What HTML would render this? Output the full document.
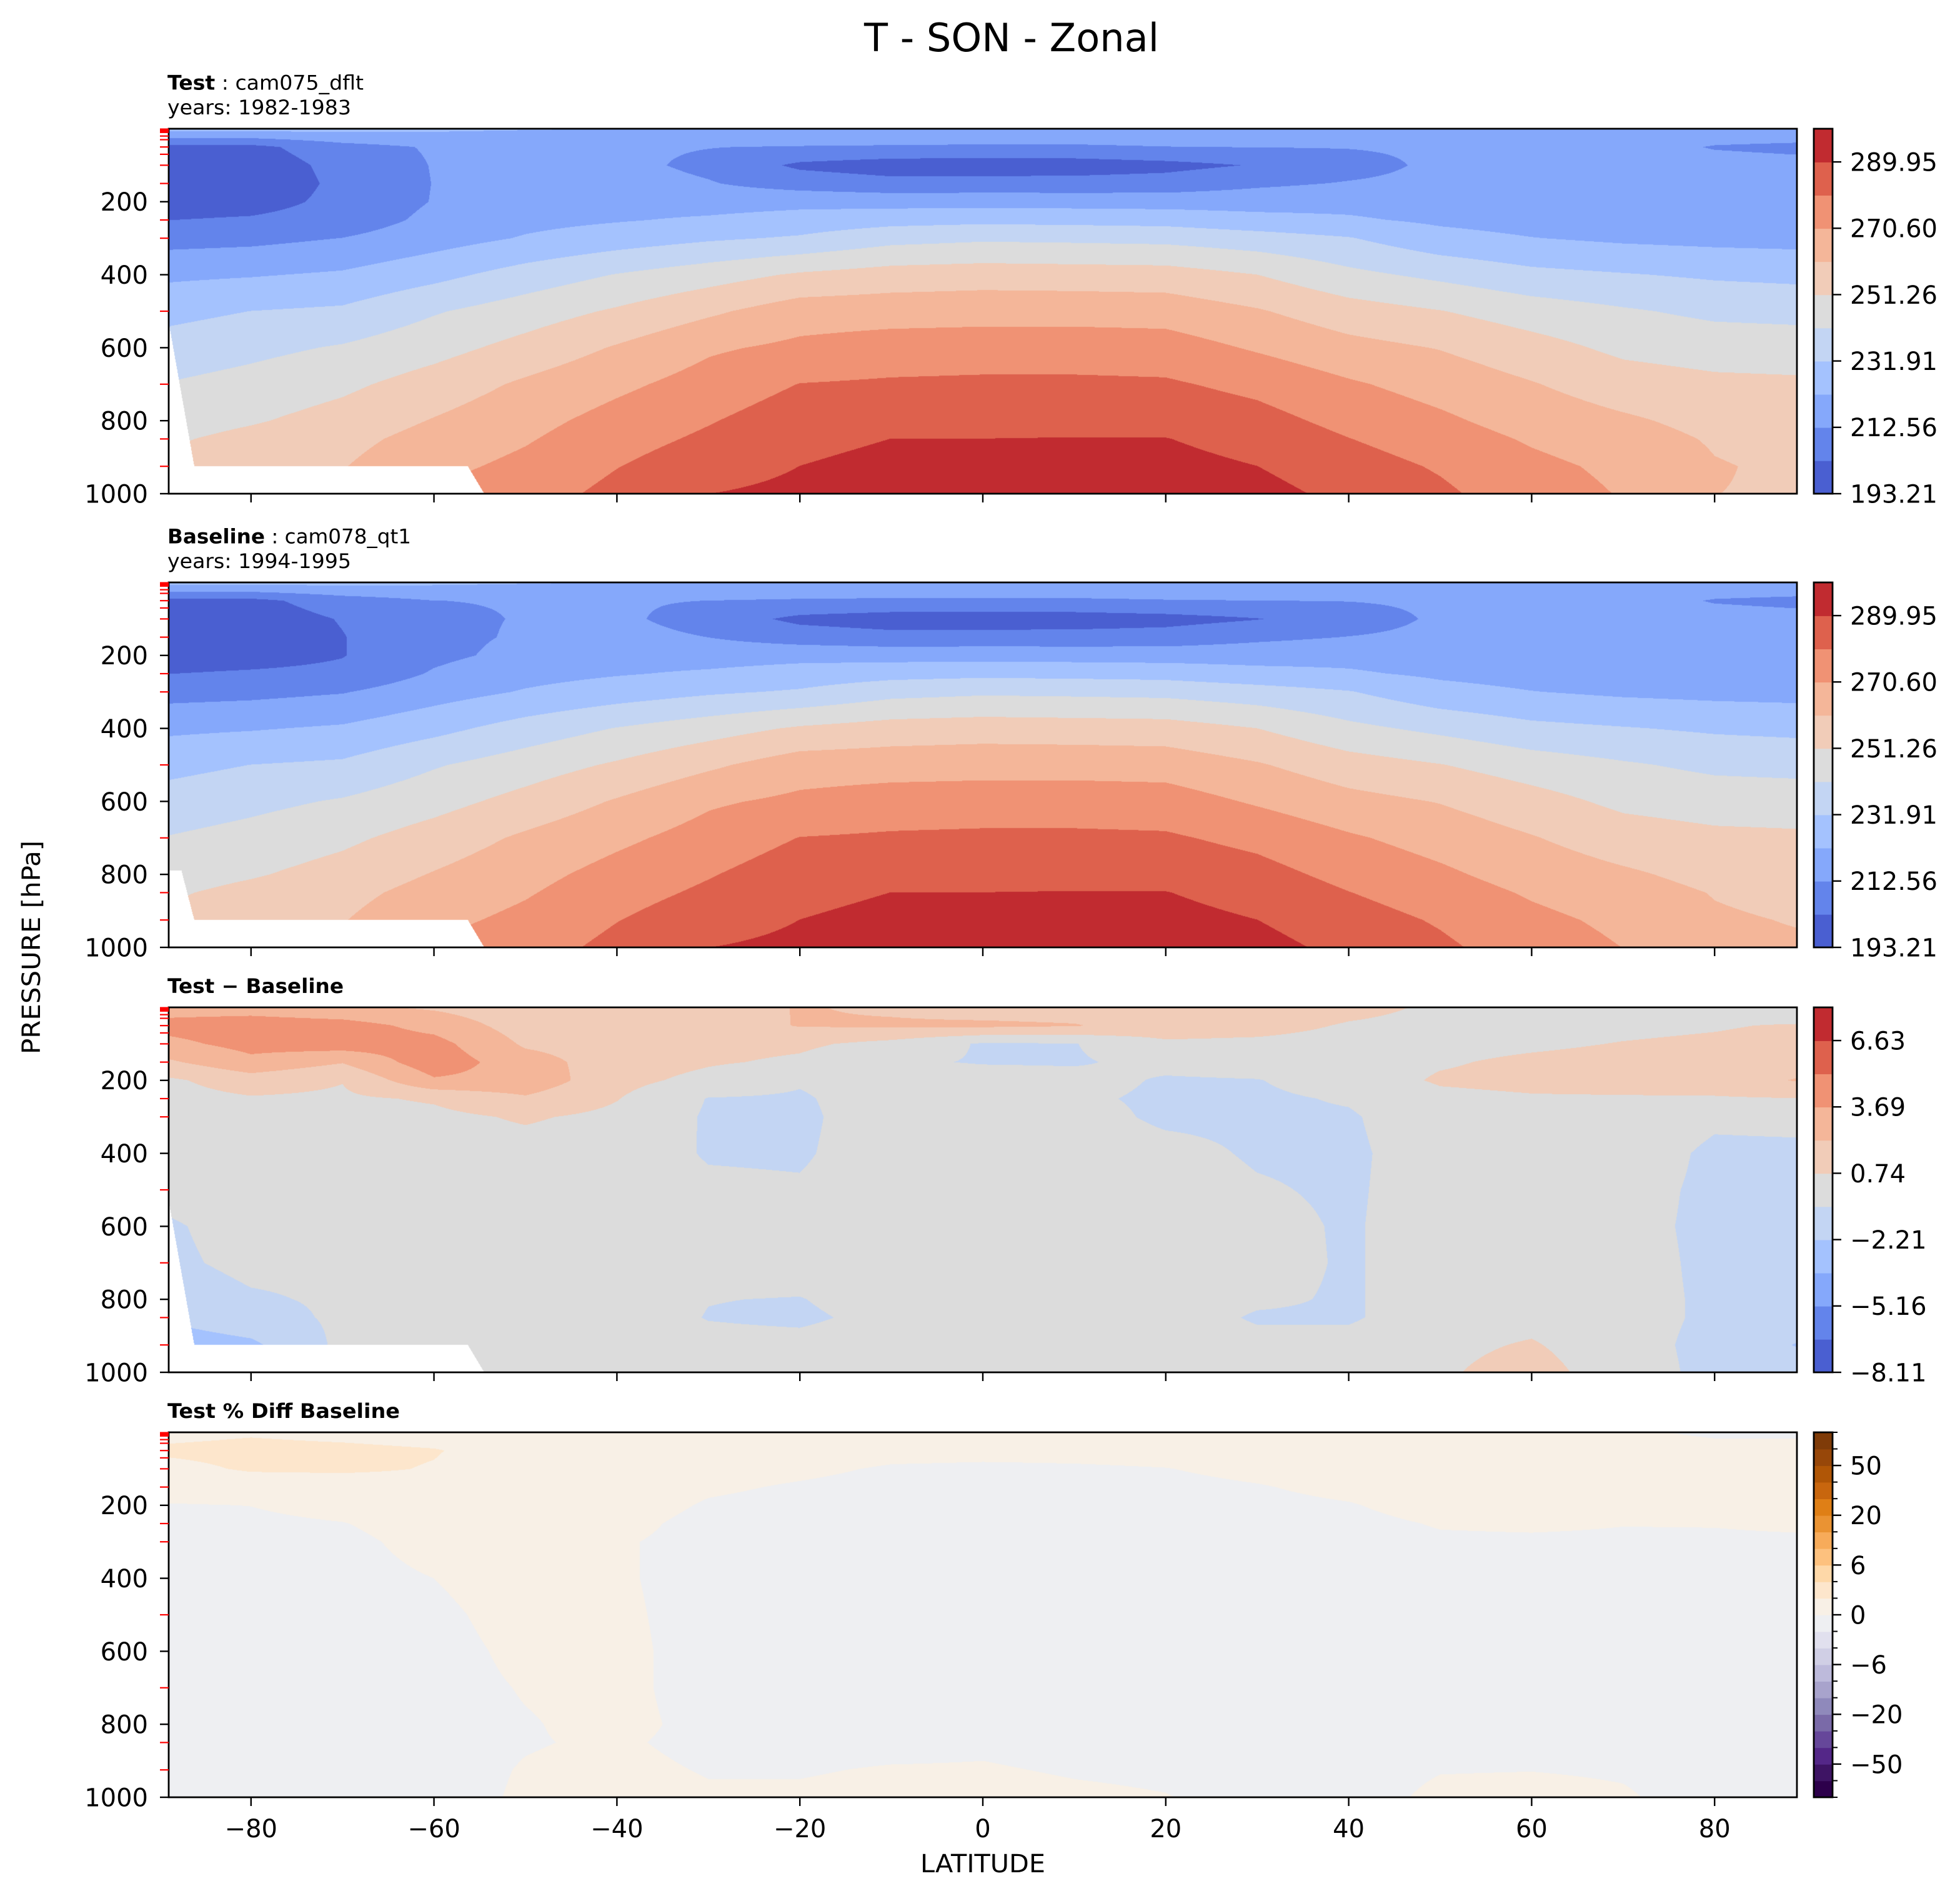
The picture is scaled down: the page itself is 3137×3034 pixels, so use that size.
<!DOCTYPE html>
<html><head><meta charset="utf-8"><title>T - SON - Zonal</title>
<style>
html,body{margin:0;padding:0;background:#fff;}
body{width:3137px;height:3034px;position:relative;overflow:hidden;}
canvas{position:absolute;display:block;}
svg{position:absolute;left:0;top:0;}
text{font-family:"DejaVu Sans","Liberation Sans",sans-serif;fill:#000;}
</style></head>
<body>
<canvas id="c0" width="2606" height="584" style="left:270px;top:206px"></canvas>
<canvas id="c1" width="2606" height="584" style="left:270px;top:932px"></canvas>
<canvas id="c2" width="2606" height="584" style="left:270px;top:1612px"></canvas>
<canvas id="c3" width="2606" height="584" style="left:270px;top:2292px"></canvas>
<svg id="ov" width="3137" height="3034" viewBox="0 0 1568.5 1517">
  <text x="809.5" y="41" font-size="31" text-anchor="middle" textLength="236" lengthAdjust="spacingAndGlyphs">T - SON - Zonal</text>
  <text x="134" y="71.7" font-size="16" textLength="157" lengthAdjust="spacingAndGlyphs"><tspan font-weight="bold">Test</tspan> : cam075_dflt</text>
  <text x="134" y="91.5" font-size="16" textLength="147" lengthAdjust="spacingAndGlyphs">years: 1982-1983</text>
  <text x="134" y="434.7" font-size="16" textLength="195" lengthAdjust="spacingAndGlyphs"><tspan font-weight="bold">Baseline</tspan> : cam078_qt1</text>
  <text x="134" y="454.5" font-size="16" textLength="147" lengthAdjust="spacingAndGlyphs">years: 1994-1995</text>
  <text x="134" y="794.5" font-size="16" font-weight="bold" textLength="141" lengthAdjust="spacingAndGlyphs">Test − Baseline</text>
  <text x="134" y="1134.5" font-size="16" font-weight="bold" textLength="186" lengthAdjust="spacingAndGlyphs">Test % Diff Baseline</text>
  <text x="786.5" y="1498" font-size="20" text-anchor="middle" textLength="100" lengthAdjust="spacingAndGlyphs">LATITUDE</text>
  <text x="0" y="0" font-size="20" text-anchor="middle" transform="translate(32,758) rotate(-90)" textLength="171" lengthAdjust="spacingAndGlyphs">PRESSURE [hPa]</text>
</svg>
<script>
// ---------- data ----------
const lats=[-89,-80,-70,-60,-50,-40,-30,-20,-10,0,10,20,30,40,50,60,70,80,89];
const pressures=[0,50,100,150,200,250,300,400,500,600,700,800,850,925,1000];
const testT=[
[226,200,197,196,198,202.8,208.9,220.4,229,236,242,247,250,253,256],
[226,200,197,196.5,199,204,209.9,221.5,232,239,244.9,250.3,254,258,262],
[225,209,206,205,205.5,207,212.7,223.5,233.5,242.5,249.2,255,258,260.5,264],
[224,213.5,213,212.8,213,215,218,229,240.7,247.8,255.5,261.5,264.5,268,272],
[223,213,213.5,214,216,219.5,223,236,246.5,254.5,262.5,267.5,269.7,273,276],
[222,214,215,216.5,218.5,221.5,227,242,252.5,261.8,268.5,274,276.5,280,283],
[222,212.8,210.5,213.2,218,223.6,230.5,247,259.2,269.2,274.5,279.6,282,286,289.9],
[222,212,201,208.5,219,226.5,233,252.5,266,272.7,280.5,285.5,287.5,290,292],
[222,211.5,198,206,218.5,228.5,238.3,255.5,266.5,275,281.5,287,290,292.5,295],
[222,211,197.5,206.5,218.5,229.5,240,256.5,267,275.5,282,287.5,290,293,295.5],
[222,211,198,206.5,218.3,229,239.5,256,267,275.5,282,287.5,290.2,293.5,296],
[222,212.3,200,207,218,228.3,238.8,255.5,266.5,275,281.5,287,290.2,293,295],
[222,212.8,203.5,210.8,218,225.5,236,251.3,261.8,269.5,277.7,283.6,286.5,290,293],
[222,213,209,213.2,219,223.5,232.5,244,255.5,264,271.8,277.5,280.5,284.5,287.5],
[222,214,214.5,215,217,220.5,225.5,239.3,251.6,260.5,266.8,272.4,275.3,279.3,282],
[222,215,215,215,216,218.5,222.5,234.5,246.5,255,261.5,266.5,269.5,273,275],
[220,215,215,215,215.5,217,220.5,232.5,242.7,249,256,262.4,265,268.5,270],
[216,212.2,214.5,214.5,214.5,215.5,219.5,230.5,239.5,246.8,253.5,258,260,261.5,261],
[216,211.5,214,214,214,215,219,229.5,238.6,246.5,252.8,256.5,258,259.5,260]];
const baseT=[
[226,200,197,196,198,202.8,208.9,220.4,229,236,242,247,250,253,256],
[226,200,197,196.5,199,204,209.9,221.5,232,239,244.9,250.3,254,258,262],
[225,208,203.5,202.5,202.5,205,212,223.5,233.5,242.5,249.2,255,258,260.5,264],
[224,212.5,211,210.5,210.5,213.5,218,229,240.7,247.8,255.5,261.5,264.5,268,272],
[223,213,213,213.5,215,219,223,236,246.5,254.5,262.5,267.5,269.7,273,276],
[222,213.5,214.5,216,218.5,221.5,227,242,252.5,261.8,268.5,274,276.5,280,283],
[222,212.5,208.5,212.5,218,223.6,230.5,247,259.2,269.2,274.5,279.6,282,286,289.9],
[222,211.5,200.5,208,219,226.5,233,252.5,266,272.7,280.5,285.5,287.5,290,292],
[222,211,198,206,218.5,228.5,238.3,255.5,266.5,275,281.5,287,290,292.5,295],
[222,211,197.5,206.5,218.5,229.5,240,256.5,267,275.5,282,287.5,290,293,295.5],
[222,211,198,206.5,218.3,229,239.5,256,267,275.5,282,287.5,290.2,293.5,296],
[222,212,199.5,207,218,228.3,238.8,255.5,266.5,275,281.5,287,290.2,293,295],
[222,212.5,202.5,210.5,218,225.5,236,251.3,261.8,269.5,277.7,283.6,286.5,290,293],
[222,212.8,208,212.8,219,223.5,232.5,244,255.5,264,271.8,277.5,280.5,284.5,287.5],
[222,214,214,214.8,217,220.5,225.5,239.3,251.6,260.5,266.8,272.4,275.3,279.3,282],
[222,215,215,215,216,218.5,222.5,234.5,246.5,255,261.5,266.5,269.5,273,275.5],
[220,215,215,215,215.5,217,220.5,232.5,242.7,249,256,262.4,265,268.5,270.5],
[216,212.2,214.5,214.5,214.5,215.5,219.5,230.5,239.5,246.8,253.5,258,260.5,262,262.5],
[216,211.5,214,214,214,215,219,229.5,238.6,246.5,252.8,256.5,258.5,260.5,262]];
const diffT=[
[3,4.2,3.3,2,0.5,0.2,0.1,0,-0.3,-0.9,-1,-1.5,-2,-3,-3],
[3,4.5,4.2,3.3,1.5,0.6,0.3,0.1,0,-0.2,-0.4,-0.9,-1.3,-2.5,-2.5],
[2.5,4.3,4.5,2.3,0.8,0.5,0.2,0,0,-0.2,-0.5,-0.55,-0.5,-0.4,-0.4],
[2,3.2,4.2,4.6,3.5,0.9,0.4,0.1,0,0,0,-0.3,-0.3,0,0],
[1.2,1.5,2,2.8,3.2,2,0.9,0.2,0,0,0,0,0,0,0],
[1.3,1.5,1.6,1.5,1.2,0.8,0.4,0,0,0,0,0,0,0,0],
[1.5,1.4,1.2,0.9,0.3,-0.8,-0.9,-0.85,-0.5,-0.2,0,-0.7,-0.8,-0.3,0],
[2.3,2.3,1,0.5,-0.6,-0.9,-1,-0.9,-0.6,-0.3,0,-0.8,-1,-0.3,0],
[2,2.4,0.3,-0.5,0,0,0,0,0,0,0,0,-0.3,0,0],
[1.5,2.5,-0.9,-0.85,0,0,0,0,0,0,0,0,0,0,0],
[1.5,2.3,-0.8,-0.9,-0.2,-0.5,-0.2,0,0,0,0,0,0,0,0],
[2,1.5,0.5,-0.3,-0.9,-1,-1,-0.3,0,0,0,0,0,0,0],
[2,1.3,0.4,0,-0.8,-1,-1,-0.9,-0.6,-0.3,-0.2,-0.5,-0.9,-0.3,0],
[1.2,0.6,0.2,0.1,0,-0.6,-0.9,-1,-0.95,-0.9,-0.9,-0.9,-0.9,-0.3,0],
[0.5,0.3,0.3,0.6,0.9,0.4,0.2,0,0,0,0,0,0,0.3,0.5],
[0.3,0.2,0.5,1,1.1,0.6,0.3,0,0,0,0,0,0.2,0.9,1.5],
[0.3,0.4,0.8,1.2,1.3,0.6,0.2,0,-0.3,-0.4,-0.3,-0.3,-0.4,-0.4,-0.3],
[0.3,0.6,1,1.4,1.5,0.6,-0.5,-1,-1,-1,-1,-0.95,-0.9,-1,-1],
[-0.8,0.9,1.3,1.6,2.3,0.7,-0.4,-1,-1.1,-1.1,-1.1,-1.1,-1.2,-2.3,-1.2]];
const pctD=[
[1.5,2.3,1.5,0.8,-0.1,-0.4,-0.5,-0.6,-0.6,-0.6,-0.6,-0.6,-0.6,-0.6,-0.6],
[1.8,2.5,2.2,1,0.02,-0.3,-0.4,-0.5,-0.5,-0.5,-0.5,-0.5,-0.5,-0.5,-0.5],
[1.5,2.4,2.3,1,0.5,-0.05,-0.3,-0.4,-0.5,-0.5,-0.5,-0.5,-0.5,-0.5,-0.5],
[1.2,2.1,1.9,1.5,0.8,0.6,0.4,0,-0.2,-0.3,-0.3,-0.3,-0.3,-0.3,-0.3],
[1,1.2,1.2,1,0.8,0.7,0.6,0.5,0.35,0.2,0.05,-0.05,-0.05,0.05,0.1],
[0.8,0.8,0.8,0.6,0.5,0.3,0.1,0.1,0.15,0.2,0.2,0.2,0.1,0.2,0.3],
[0.8,0.6,0.4,0.15,-0.1,-0.3,-0.3,-0.3,-0.3,-0.3,-0.3,-0.2,-0.2,-0.05,0.1],
[0.7,0.5,0.2,-0.1,-0.3,-0.3,-0.3,-0.3,-0.3,-0.3,-0.3,-0.3,-0.2,-0.05,0.1],
[0.6,0.3,-0.1,-0.3,-0.3,-0.3,-0.3,-0.3,-0.3,-0.3,-0.3,-0.3,-0.2,0.05,0.2],
[0.5,0.25,-0.15,-0.3,-0.3,-0.3,-0.3,-0.3,-0.3,-0.3,-0.3,-0.2,-0.1,0.05,0.2],
[0.5,0.25,-0.1,-0.3,-0.3,-0.3,-0.3,-0.3,-0.3,-0.3,-0.3,-0.3,-0.2,-0.05,0.1],
[0.5,0.3,-0.02,-0.2,-0.3,-0.3,-0.3,-0.3,-0.3,-0.3,-0.3,-0.3,-0.2,-0.1,0.02],
[0.6,0.5,0.2,-0.05,-0.2,-0.2,-0.2,-0.2,-0.2,-0.2,-0.2,-0.2,-0.2,-0.2,-0.2],
[0.6,0.5,0.4,0.2,-0.05,-0.2,-0.2,-0.2,-0.2,-0.2,-0.2,-0.2,-0.2,-0.2,-0.2],
[0.6,0.6,0.5,0.4,0.3,0.05,-0.1,-0.2,-0.2,-0.2,-0.2,-0.2,-0.1,-0.02,0.1],
[0.6,0.6,0.5,0.4,0.3,0.1,-0.1,-0.2,-0.2,-0.2,-0.2,-0.1,-0.05,-0.01,0.15],
[0.2,0.5,0.5,0.4,0.3,0.02,-0.1,-0.2,-0.2,-0.2,-0.2,-0.2,-0.2,-0.05,0.05],
[-0.2,0.4,0.5,0.4,0.3,0.03,-0.1,-0.2,-0.2,-0.2,-0.2,-0.2,-0.2,-0.2,-0.2],
[-0.2,0.4,0.5,0.4,0.3,0.1,-0.1,-0.2,-0.2,-0.2,-0.2,-0.2,-0.2,-0.2,-0.2]];
const levT=[193.21,202.88,212.56,222.23,231.91,241.58,251.26,260.93,270.60,280.28,289.95,299.62];
const levD=[-8.11,-6.64,-5.16,-3.69,-2.21,-0.74,0.74,2.21,3.69,5.16,6.63,8.11];
const levP=[-100,-75,-50,-40,-30,-20,-15,-10,-6,-4,-2,0,2,4,6,10,15,20,30,40,50,75,100];
const tickValT=[193.21,212.56,231.91,251.26,270.60,289.95];
const tickLabT=['193.21','212.56','231.91','251.26','270.60','289.95'];
const tickValD=[-8.11,-5.16,-2.21,0.74,3.69,6.63];
const tickLabD=['\u22128.11','\u22125.16','\u22122.21','0.74','3.69','6.63'];
const tickValP=[-50,-20,-6,0,6,20,50];
const tickLabP=['\u221250','\u221220','\u22126','0','6','20','50'];
const maskLatTest=[-89,-86.2,-56.3,-54.5,89];
const maskPTest=[530,925,925,1000,1000];
const maskLatBase=[-89,-87.6,-86.2,-56.3,-54.5,89];
const maskPBase=[790,790,925,925,1000,1000];
const yTickVals=[200,400,600,800,1000];
const redTickVals=[1,3,5,7,10,20,30,50,70,100,150,250,300,500,700,850,925];
const xTickVals=[-80,-60,-40,-20,0,20,40,60,80];
// styles (not data)
const coolColors=['#4a5fd1','#6384eb','#85a8fb','#a4c2fe','#c3d5f3','#dcdcdc','#f1ccb8','#f4b699','#f09274','#de614d','#c12b30'];
const puorColors=['#2d004b','#3e1464','#542788','#66479a','#7a6aa8','#8f89bb','#a8a3cc','#bdbadb','#d0cfe5','#e1e0ee','#eeeff2','#f8f0e6','#fde6cc','#fed8a8','#fdc17e','#f7ab5a','#ea9333','#df7f16','#c8660e','#b05606','#974709','#7f3b08'];

// ---------- geometry ----------
const PX0=135, PW=1303, PH=292, LAT0=-89, LAT1=89;
const tops=[103,466,806,1146];
const CBX=1451.5, CBW=15;
function xOf(lat){return PX0+(lat-LAT0)/(LAT1-LAT0)*PW;}
function yOf(p,top){return top+p/1000*PH;}

function locate(arr,v){let k=0;while(k<arr.length-2&&v>arr[k+1])k++;let t=(v-arr[k])/(arr[k+1]-arr[k]);t=Math.max(0,Math.min(1,t));return [k,t];}
function interp1(xs,ys,v){const [k,t]=locate(xs,v);return ys[k]+(ys[k+1]-ys[k])*t;}
function hex(h){return [parseInt(h.substr(1,2),16),parseInt(h.substr(3,2),16),parseInt(h.substr(5,2),16)];}

function renderField(id,grid,levels,colors,mLat,mP){
  const cv=document.getElementById(id);const W=cv.width,H=cv.height;
  const ctx=cv.getContext('2d');const img=ctx.createImageData(W,H);const d=img.data;
  const rgb=colors.map(hex);const nb=colors.length;
  const colK=new Int32Array(W),colT=new Float64Array(W),ps=new Float64Array(W);
  for(let i=0;i<W;i++){const lat=LAT0+(i+0.5)/W*(LAT1-LAT0);const r=locate(lats,lat);colK[i]=r[0];colT[i]=r[1];ps[i]=mLat?interp1(mLat,mP,lat):1e9;}
  for(let j=0;j<H;j++){
    const p=(j+0.5)/H*1000;const r=locate(pressures,p);const pk=r[0],pt=r[1];
    for(let i=0;i<W;i++){
      const o=(j*W+i)*4;
      if(p>ps[i]){d[o]=255;d[o+1]=255;d[o+2]=255;d[o+3]=255;continue;}
      const k=colK[i],t=colT[i];
      const a=grid[k][pk]*(1-pt)+grid[k][pk+1]*pt;
      const b=grid[k+1][pk]*(1-pt)+grid[k+1][pk+1]*pt;
      const v=a*(1-t)+b*t;
      let band=0;while(band<nb-1&&v>=levels[band+1])band++;
      const c=rgb[band];d[o]=c[0];d[o+1]=c[1];d[o+2]=c[2];d[o+3]=255;
    }
  }
  ctx.putImageData(img,0,0);
}
renderField('c0',testT,levT,coolColors,maskLatTest,maskPTest);
renderField('c1',baseT,levT,coolColors,maskLatBase,maskPBase);
renderField('c2',diffT,levD,coolColors,maskLatTest,maskPTest);
renderField('c3',pctD,levP,puorColors,null,null);

// ---------- overlay ----------
const NS='http://www.w3.org/2000/svg';const svg=document.getElementById('ov');
function mk(tag,attrs){const e=document.createElementNS(NS,tag);for(const k in attrs)e.setAttribute(k,attrs[k]);svg.appendChild(e);return e;}
const panelNames=['test','baseline','difference','percent-diff'];
const panelLevels=[levT,levT,levD,levP];
const panelColors=[coolColors,coolColors,coolColors,puorColors];
const panelTickVals=[tickValT,tickValT,tickValD,tickValP];
const panelTickLabs=[tickLabT,tickLabT,tickLabD,tickLabP];
for(let q=0;q<4;q++){
  const top=tops[q],bot=top+PH,nm=panelNames[q];
  const fr=mk('rect',{x:PX0,y:top,width:PW,height:PH,fill:'none',stroke:'#000','stroke-width':1.4});
  
  
  for(const p of redTickVals){
    const l=mk('line',{x1:PX0-7,x2:PX0,y1:yOf(p,top),y2:yOf(p,top),stroke:'#ff0000','stroke-width':1.1});
    
    
  }
  for(const p of yTickVals){
    const y=yOf(p,top);
    const l=mk('line',{x1:PX0-7,x2:PX0,y1:y,y2:y,stroke:'#000','stroke-width':1.2});
    
    
    const t=mk('text',{x:118.5,y:y+7.2,'font-size':20,'text-anchor':'end'});
    t.textContent=String(p);
    
    
  }
  for(const lat of xTickVals){
    const x=xOf(lat);
    const l=mk('line',{x1:x,x2:x,y1:bot,y2:bot+7,stroke:'#000','stroke-width':1.2});
    
    
    if(q===3){
      const t=mk('text',{x:x,y:1470,'font-size':20,'text-anchor':'middle'});
      t.textContent=(lat<0?'\u2212':'')+Math.abs(lat);
      
      
    }
  }
  // colorbar
  const lev=panelLevels[q],cols=panelColors[q],nb=cols.length,bh=PH/nb;
  for(let b=0;b<nb;b++){
    const r=mk('rect',{x:CBX,y:bot-(b+1)*bh,width:CBW,height:bh+0.4,fill:cols[b]});
    
    
  }
  const cf=mk('rect',{x:CBX,y:top,width:CBW,height:PH,fill:'none',stroke:'#000','stroke-width':1.4});
  
  
  function cbY(v){const [k,t]=locate(lev,v);return bot-(k+t)/nb*PH;}
  if(q===3){
    for(const v of lev){
      const y=cbY(v);
      const l=mk('line',{x1:CBX+CBW,x2:CBX+CBW+4,y1:y,y2:y,stroke:'#000','stroke-width':1});
      
      
    }
  }
  const tv=panelTickVals[q],tl=panelTickLabs[q];
  for(let i=0;i<tv.length;i++){
    const y=cbY(tv[i]);
    const l=mk('line',{x1:CBX+CBW,x2:CBX+CBW+7,y1:y,y2:y,stroke:'#000','stroke-width':1.2});
    
    
    const t=mk('text',{x:CBX+CBW+14,y:y+7.2,'font-size':20});
    t.textContent=tl[i];
    
    
  }
}
</script>
</body></html>
